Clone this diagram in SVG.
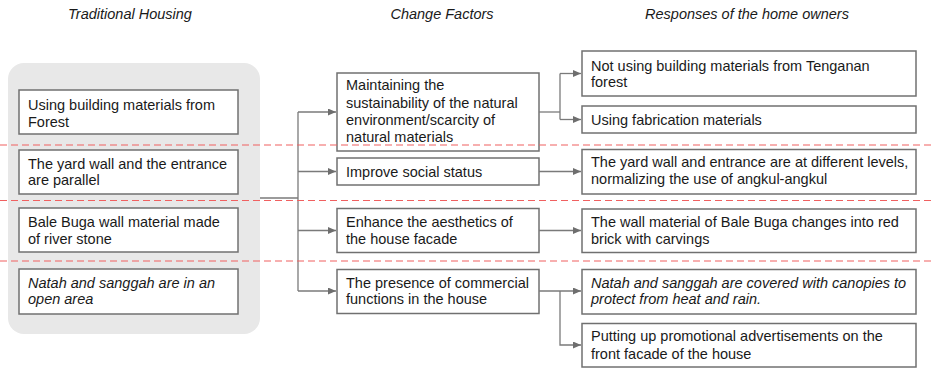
<svg xmlns="http://www.w3.org/2000/svg" width="933" height="368" viewBox="0 0 933 368">
  <style>
    text { font-family: "Liberation Sans", Arial, sans-serif; font-size: 14.5px; fill: #1a1a1a; }
    .head { font-style: italic; text-anchor: middle; }
    .it { font-style: italic; }
    .box { fill: #ffffff; stroke: #707070; stroke-width: 1.5; }
    .panel { fill: #e8e8e8; stroke: none; }
    .conn { fill: none; stroke: #7a7a7a; stroke-width: 1.3; }
    .divider { stroke: #f06060; stroke-width: 1.2; stroke-dasharray: 7 4; }
  </style>
  <defs>
    <marker id="arrow" viewBox="0 0 8 7" refX="8" refY="3.5" markerWidth="8" markerHeight="7" markerUnits="userSpaceOnUse" orient="auto">
      <path d="M0,0 L8,3.5 L0,7 z" fill="#6e6e6e"/>
    </marker>
  </defs>

  <!-- column headings -->
  <text class="head" x="130" y="19">Traditional Housing</text>
  <text class="head" x="442" y="19">Change Factors</text>
  <text class="head" x="747" y="19">Responses of the home owners</text>

  <!-- background panel for the traditional column -->
  <rect class="panel" x="8" y="63" width="252" height="271" rx="16" ry="16"/>

  <!-- traditional housing -->
  <g id="trad-materials">
    <rect class="box" x="19" y="90" width="219" height="44"/>
    <text x="28" y="110">Using building materials from</text>
    <text x="28" y="126.5">Forest</text>
  </g>
  <g id="trad-wall">
    <rect class="box" x="19" y="150" width="219" height="44"/>
    <text x="28" y="168.5">The yard wall and the entrance</text>
    <text x="28" y="185">are parallel</text>
  </g>
  <g id="trad-balebuga">
    <rect class="box" x="19" y="208" width="219" height="44"/>
    <text x="28" y="226.5">Bale Buga wall material made</text>
    <text x="28" y="243.5">of river stone</text>
  </g>
  <g id="trad-natah">
    <rect class="box" x="19" y="269" width="219" height="45"/>
    <text class="it" x="28" y="287.5">Natah and sanggah are in an</text>
    <text class="it" x="28" y="304">open area</text>
  </g>

  <!-- change factors -->
  <g id="factor-sustainability">
    <rect class="box" x="337" y="73" width="202" height="78"/>
    <text x="346" y="90">Maintaining the</text>
    <text x="346" y="107.5">sustainability of the natural</text>
    <text x="346" y="124.5">environment/scarcity of</text>
    <text x="346" y="141.5">natural materials</text>
  </g>
  <g id="factor-status">
    <rect class="box" x="337" y="158" width="202" height="27"/>
    <text x="346" y="176.5">Improve social status</text>
  </g>
  <g id="factor-aesthetics">
    <rect class="box" x="337" y="208.5" width="202" height="44"/>
    <text x="346" y="226.5">Enhance the aesthetics of</text>
    <text x="346" y="243.5">the house facade</text>
  </g>
  <g id="factor-commercial">
    <rect class="box" x="337" y="269.5" width="202" height="44"/>
    <text x="346" y="287.5">The presence of commercial</text>
    <text x="346" y="304">functions in the house</text>
  </g>

  <!-- responses of the home owners -->
  <g id="resp-tenganan">
    <rect class="box" x="582" y="51" width="334" height="45"/>
    <text x="591" y="70.5">Not using building materials from Tenganan</text>
    <text x="591" y="86.5">forest</text>
  </g>
  <g id="resp-fabrication">
    <rect class="box" x="582" y="106" width="334" height="27"/>
    <text x="591" y="124.5">Using fabrication materials</text>
  </g>
  <g id="resp-levels">
    <rect class="box" x="582" y="149.5" width="334" height="44.5"/>
    <text x="591" y="167">The yard wall and entrance are at different levels,</text>
    <text x="591" y="184">normalizing the use of angkul-angkul</text>
  </g>
  <g id="resp-brick">
    <rect class="box" x="582" y="209" width="334" height="43.5"/>
    <text x="591" y="227">The wall material of Bale Buga changes into red</text>
    <text x="591" y="244">brick with carvings</text>
  </g>
  <g id="resp-canopies">
    <rect class="box" x="582" y="269.5" width="334" height="44.5"/>
    <text class="it" x="591" y="287.5">Natah and sanggah are covered with canopies to</text>
    <text class="it" x="591" y="304">protect from heat and rain.</text>
  </g>
  <g id="resp-advertising">
    <rect class="box" x="582" y="323.5" width="334" height="43.5"/>
    <text x="591" y="341">Putting up promotional advertisements on the</text>
    <text x="591" y="358.5">front facade of the house</text>
  </g>

  <!-- connectors -->
  <g id="connectors">
    <path class="conn" d="M260,198 H298"/>
    <path class="conn" d="M298,112 V291"/>
    <path class="conn" d="M298,112 H336" marker-end="url(#arrow)"/>
    <path class="conn" d="M298,171.5 H336" marker-end="url(#arrow)"/>
    <path class="conn" d="M298,230.5 H336" marker-end="url(#arrow)"/>
    <path class="conn" d="M298,291 H336" marker-end="url(#arrow)"/>

    <path class="conn" d="M539,112 H560"/>
    <path class="conn" d="M560,73.5 V119.5"/>
    <path class="conn" d="M560,73.5 H581" marker-end="url(#arrow)"/>
    <path class="conn" d="M560,119.5 H581" marker-end="url(#arrow)"/>
    <path class="conn" d="M539,171.5 H581" marker-end="url(#arrow)"/>
    <path class="conn" d="M539,230.5 H581" marker-end="url(#arrow)"/>
    <path class="conn" d="M539,291 H581" marker-end="url(#arrow)"/>
    <path class="conn" d="M560,291 V345 H581" marker-end="url(#arrow)"/>
  </g>

  <!-- dashed row dividers -->
  <g id="dividers">
    <line class="divider" x1="0" y1="145" x2="933" y2="145"/>
    <line class="divider" x1="0" y1="200.5" x2="933" y2="200.5"/>
    <line class="divider" x1="0" y1="261" x2="933" y2="261"/>
  </g>
</svg>
